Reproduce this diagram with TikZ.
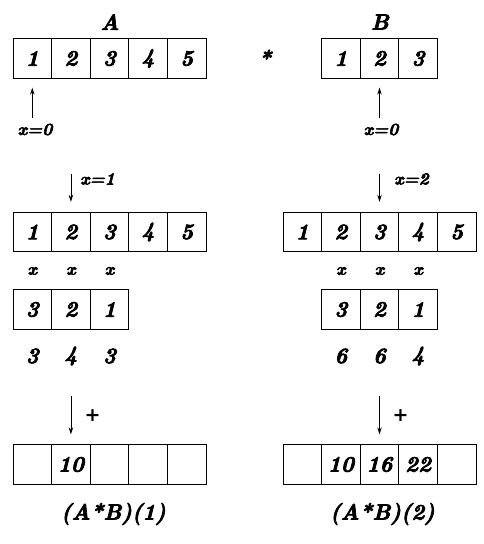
\documentclass[tikz,border=0pt]{standalone}
\usepackage{fontspec}
\setmainfont{Latin Modern Roman}[FakeBold=3.2]
\newfontfamily\plusfont{DejaVu Sans}
\usetikzlibrary{arrows.meta}
\begin{document}
\begin{tikzpicture}[x=1pt,y=-1pt,
  every node/.style={font=\fontsize{22}{26}\selectfont\bfseries\itshape},
  cell/.style={draw, line width=0.9pt, minimum width=38.6pt, minimum height=39.4pt, inner sep=0pt},
  small/.style={font=\fontsize{17}{20}\selectfont\bfseries\itshape, inner sep=1pt},
  plus/.style={font=\fontsize{19}{22}\selectfont\plusfont\bfseries, inner sep=1pt},
  ptr/.style={-{Stealth[length=7pt,width=4.5pt]}, line width=0.8pt},
]
\useasboundingbox (0,0) rectangle (483,544);
% top row
\node (lA) at (110,22) {A};
\node (lB) at (380,22) {B};
\node (star) at (265,58) {*};
\foreach \v [count=\i] in {1,2,3,4,5}
  \node[cell] (a\i) at ({32.3+38.6*(\i-1)},58.5) {\v};
\foreach \v [count=\i] in {1,2,3}
  \node[cell] (b\i) at ({340.9+38.6*(\i-1)},58.5) {\v};
\node[small] (p0) at (35,129.5) {x=0};
\node[small] (q0) at (381,129.5) {x=0};
\draw[ptr] ([yshift=-39pt]a1.south) -- ([yshift=-9pt]a1.south);
\draw[ptr] ([yshift=-39pt]b2.south) -- ([yshift=-9pt]b2.south);
% left middle
\foreach \v [count=\i] in {1,2,3,4,5}
  \node[cell] (c\i) at ({32.3+38.6*(\i-1)},232) {\v};
\node[small, anchor=west] (k1) at (79,179) {x=1};
\draw[ptr] ([yshift=38pt]c2.north) -- ([yshift=10pt]c2.north);
\foreach \i in {1,2,3}
  \node[small] (xa\i) at ({32.3+38.6*(\i-1)},271) {x};
\foreach \v [count=\i] in {3,2,1}
  \node[cell] (d\i) at ({32.3+38.6*(\i-1)},309.5) {\v};
\foreach \v [count=\i] in {3,4,3}
  \node (pa\i) at ({32.3+38.6*(\i-1)},356) {\v};
% right middle
\foreach \v [count=\i] in {1,2,3,4,5}
  \node[cell] (e\i) at ({302.3+38.6*(\i-1)},232) {\v};
\node[small, anchor=west] (k2) at (393,179) {x=2};
\draw[ptr] ([yshift=38pt]e3.north) -- ([yshift=10pt]e3.north);
\foreach \i in {1,2,3}
  \node[small] (xb\i) at ({340.9+38.6*(\i-1)},271) {x};
\foreach \v [count=\i] in {3,2,1}
  \node[cell] (f\i) at ({340.9+38.6*(\i-1)},309.5) {\v};
\foreach \v [count=\i] in {6,6,4}
  \node (pb\i) at ({340.9+38.6*(\i-1)},356) {\v};
% bottom
\foreach \v [count=\i] in {{},10,{},{},{}}
  \node[cell] (g\i) at ({32.3+38.6*(\i-1)},464.5) {\v};
\foreach \v [count=\i] in {{},10,16,22,{}}
  \node[cell] (h\i) at ({302.3+38.6*(\i-1)},464.5) {\v};
\node[plus] (s1) at (92.5,416) {+};
\node[plus] (s2) at (400.5,416) {+};
\draw[ptr] ([yshift=48pt]g2.north) -- ([yshift=10pt]g2.north);
\draw[ptr] ([yshift=48pt]h3.north) -- ([yshift=10pt]h3.north);
\node (r1) at (113.5,514) {(A*B)(1)};
\node (r2) at (382.5,514) {(A*B)(2)};
\end{tikzpicture}
\end{document}
